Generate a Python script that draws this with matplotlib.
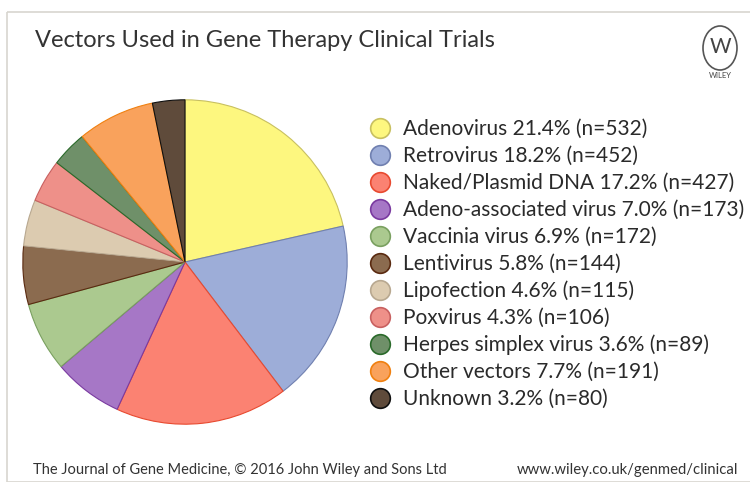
import matplotlib
matplotlib.use("Agg")
import matplotlib.pyplot as plt
from matplotlib.patches import Rectangle, Ellipse

plt.rcParams['font.family'] = ['Lato', 'DejaVu Sans']

title = "Vectors Used in Gene Therapy Clinical Trials"
labels = ["Adenovirus", "Retrovirus", "Naked/Plasmid DNA", "Adeno-associated virus",
          "Vaccinia virus", "Lentivirus", "Lipofection", "Poxvirus",
          "Herpes simplex virus", "Other vectors", "Unknown"]
percents = [21.4, 18.2, 17.2, 7.0, 6.9, 5.8, 4.6, 4.3, 3.6, 7.7, 3.2]
counts = [532, 452, 427, 173, 172, 144, 115, 106, 89, 191, 80]
colors = ["#fdf77f", "#9dadd8", "#fb8272", "#a677c6", "#abc98f", "#8b6b4f",
          "#dccbb0", "#ee9089", "#6f9069", "#f9a25c", "#5f4b3b"]
edges = ["#c8c060", "#7080b0", "#e84a30", "#7a3aa0", "#7aa060", "#5a2a10",
         "#b8a890", "#c86060", "#2a6a2a", "#f08010", "#101010"]
footer_left = "The Journal of Gene Medicine, \u00a9 2016 John Wiley and Sons Ltd"
footer_right = "www.wiley.co.uk/genmed/clinical"

W, H = 750, 482
fig = plt.figure(figsize=(W / 100, H / 100), dpi=100)
fig.patch.set_facecolor("white")

# overlay in pixel coords
ov = fig.add_axes([0, 0, 1, 1])
ov.set_xlim(0, W)
ov.set_ylim(H, 0)
ov.axis("off")

# frame
ov.add_patch(Rectangle((7, 12), 760, 470, fill=False, edgecolor="#d8d6cf", linewidth=1.2))

ov.text(35, 47, title, fontsize=17, color="#333333", va="baseline", ha="left")

# pie: center (185, 262), radius 163 px
cx, cy, r = 185, 262, 163
pax = fig.add_axes([(cx - r) / W, (H - cy - r) / H, 2 * r / W, 2 * r / H])
wedges, _ = pax.pie(counts, colors=colors, startangle=90, counterclock=False,
                    wedgeprops=dict(linewidth=0.8))
for w, e in zip(wedges, edges):
    w.set_edgecolor(e)
pax.set_xlim(-1.005, 1.005)
pax.set_ylim(-1.005, 1.005)
pax.set_aspect("equal")

# legend
y0, dy = 128, 27
for i, (lab, p, n) in enumerate(zip(labels, percents, counts)):
    y = y0 + i * dy
    ov.scatter([380], [y], s=200, color=colors[i], edgecolors=edges[i], linewidths=1.2)
    ov.text(403, y + 1, f"{lab} {p:.1f}% (n={n})", fontsize=15, color="#2a2a2a",
            va="center", ha="left")

# footer
ov.text(33, 470, footer_left, fontsize=10.5, color="#333333", va="center", ha="left")
ov.text(517, 470, footer_right, fontsize=10.7, color="#333333", va="center", ha="left")

# Wiley logo
ov.add_patch(Ellipse((720, 48), 34, 44, fill=False, edgecolor="#555555", linewidth=1.2))
ov.text(720, 47, "W", fontsize=15, color="#444444", ha="center", va="center")
ov.text(720, 76, "WILEY", fontsize=5.5, color="#444444", ha="center", va="center")

fig.savefig("out.png", dpi=100, facecolor="white")
